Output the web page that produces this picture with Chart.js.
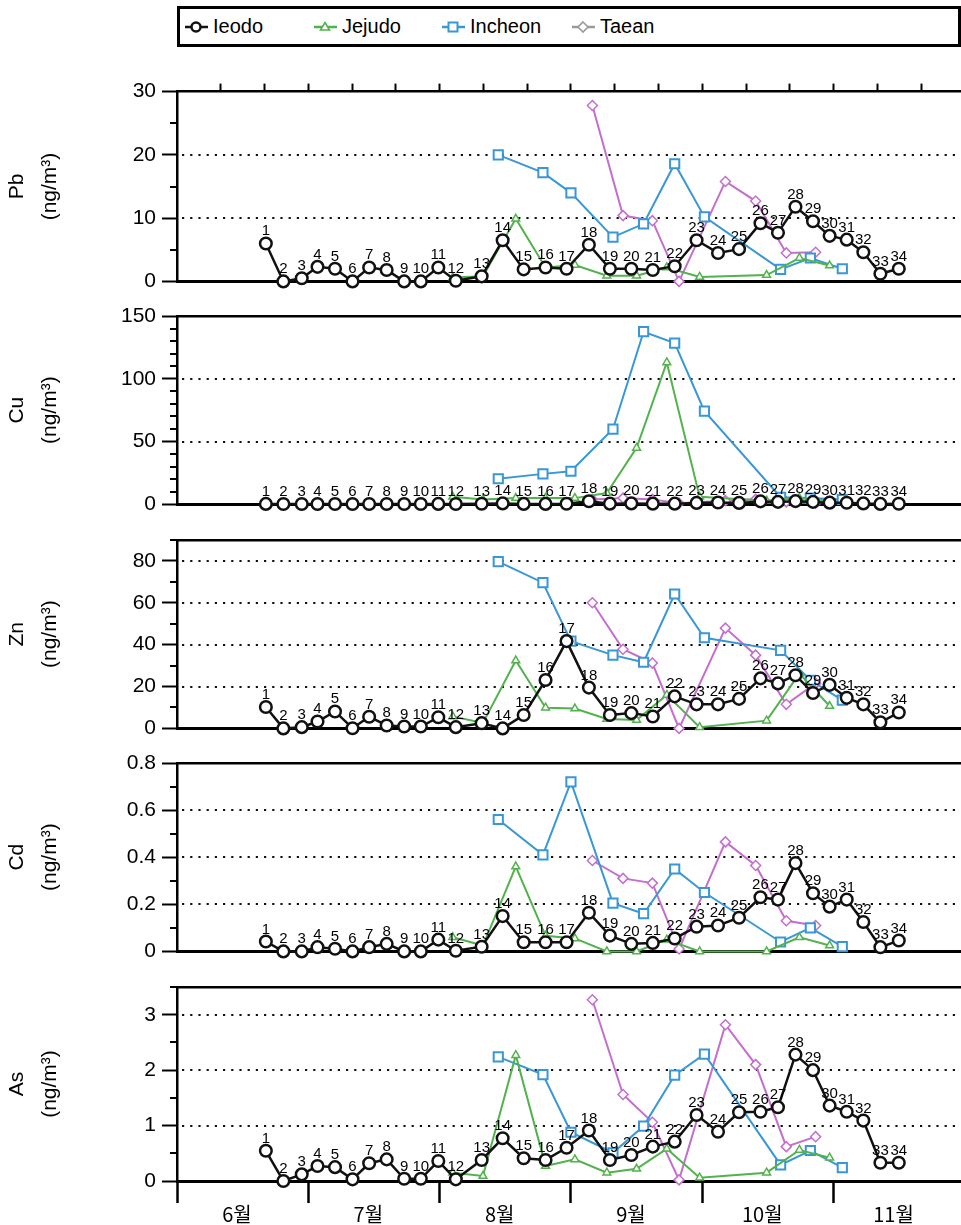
<!DOCTYPE html>
<html>
<head>
<meta charset="utf-8">
<script src="https://cdn.jsdelivr.net/npm/chart.js@4.4.1/dist/chart.umd.min.js"></script>
<style>
html, body { margin: 0; padding: 0; background: #fff; width: 961px; height: 1225px; overflow: hidden; position: relative; font-family: "Liberation Sans", Arial, sans-serif; }
.panel { position: absolute; left: 0; width: 961px; overflow: hidden; }
#legend { position: absolute; left: 177px; top: 6px; width: 778px; height: 35px; border: 3px solid #000; }
.item { position: absolute; top: 0; height: 35px; display: flex; align-items: center; font-size: 20px; color: #000; }
.item svg { margin-right: 5px; }
</style>
</head>
<body>
<div id="legend"></div>
<script>
// x positions: days after 1 June (30-day months on the axis)
const ieodoDay = [20.3, 24.3, 28.5, 32.1, 36.1, 40.1, 43.9, 47.9, 51.9, 55.7, 59.7, 63.7, 69.6, 74.4, 79.2, 84.2, 89.0,
    94.1, 98.9, 103.8, 108.7, 113.7, 118.7, 123.6, 128.4, 133.3, 137.3, 141.3, 145.3, 149.1, 153.0, 156.8, 160.7, 164.9];
const jejuDay = [63.0, 69.9, 77.4, 84.2, 90.9, 98.2, 105.0, 111.9, 119.4, 134.7, 142.2, 149.1];
const incheonDay = [73.4, 83.6, 90.0, 99.6, 106.6, 113.7, 120.5, 137.9, 144.7, 152.0];
const taeanDay = [94.9, 101.9, 108.6, 114.7, 125.3, 132.2, 139.2, 145.9];

const monthStart = [0, 30, 60, 90, 120, 150];
const monthLabels = ['6월', '7월', '8월', '9월', '10월', '11월'];
const topTickDays = [10, 20, 30, 40, 50, 60, 70, 80, 90, 100, 110, 120, 130, 140, 150, 160, 170];
const xMax = 179;

const ieodoPb = [6.0, 0.0, 0.5, 2.3, 2.0, 0.0, 2.2, 1.8, 0.0, 0.0, 2.2, 0.1, 0.8, 6.5, 1.9, 2.2, 2.0,
    5.8, 2.0, 2.0, 1.8, 2.4, 6.5, 4.5, 5.1, 9.2, 7.7, 11.8, 9.5, 7.2, 6.6, 4.6, 1.2, 2.0];
const jejuPb = [0.6, 0.8, 9.9, 2.2, 2.6, 0.9, 0.9, 2.2, 0.7, 1.0, 3.7, 2.5];
const incheonPb = [20.0, 17.2, 14.0, 7.0, 9.1, 18.6, 10.2, 1.9, 3.7, 2.0];
const taeanPb = [27.8, 10.4, 9.6, 0.0, 15.8, 12.7, 4.5, 4.6];

const ieodoCu = [0.4, 0.3, 0.3, 0.3, 0.3, 0.3, 0.3, 0.3, 0.3, 0.3, 0.4, 0.3, 0.5, 0.8, 0.4, 0.4, 0.5,
    2.5, 0.6, 0.8, 0.6, 0.6, 1.2, 1.5, 1.2, 2.4, 2.0, 2.6, 2.0, 1.4, 1.3, 0.8, 0.4, 0.5];
const jejuCu = [6, 4, 5, 5, 5, 9, 45, 113, 6, 3, 5, 3];
const incheonCu = [20.4, 24.3, 26.4, 60, 137.5, 128.4, 74.2, 5.7, 5, 3.9];
const taeanCu = [4, 5, 4, 1, 3, 4, 2, 1];

const ieodoZn = [10.2, 0, 0.6, 3.3, 8.1, 0.1, 5.6, 1.4, 0.9, 0.9, 5.3, 0.6, 2.5, 0, 6.4, 23.1, 41.7,
    19.5, 6.4, 7.3, 5.7, 15.3, 11.5, 11.5, 14.1, 23.9, 21.5, 25.4, 16.9, 20.8, 14.6, 11.5, 2.9, 7.6];
const jejuZn = [5.7, 2.6, 32.4, 9.9, 9.5, 4.5, 4.0, 16.0, 0.6, 3.7, 26.2, 10.7];
const incheonZn = [79.7, 69.6, 41.7, 35, 31.6, 64.2, 43.3, 37.3, 23, 13.5];
const taeanZn = [60, 37.8, 31.2, 0, 47.9, 35, 11.5, 21.5];

const ieodoCd = [0.042, 0, 0, 0.018, 0.011, 0, 0.018, 0.032, 0, 0, 0.05, 0.003, 0.02, 0.15, 0.039, 0.039, 0.039,
    0.164, 0.067, 0.032, 0.036, 0.055, 0.105, 0.11, 0.143, 0.23, 0.22, 0.375, 0.247, 0.19, 0.22, 0.125, 0.018, 0.046];
const jejuCd = [0.06, 0.025, 0.36, 0.066, 0.055, 0, 0, 0.05, 0, 0, 0.06, 0.025];
const incheonCd = [0.56, 0.41, 0.72, 0.205, 0.16, 0.35, 0.25, 0.04, 0.1, 0.02];
const taeanCd = [0.386, 0.31, 0.29, 0.01, 0.465, 0.365, 0.13, 0.11];

const ieodoAs = [0.545, 0, 0.12, 0.27, 0.25, 0.03, 0.32, 0.39, 0.04, 0.04, 0.36, 0.03, 0.38, 0.77, 0.41, 0.38, 0.6,
    0.91, 0.38, 0.47, 0.62, 0.71, 1.19, 0.89, 1.24, 1.25, 1.33, 2.28, 2.0, 1.36, 1.25, 1.09, 0.33, 0.33];
const jejuAs = [0.15, 0.09, 2.27, 0.27, 0.39, 0.15, 0.22, 0.58, 0.06, 0.15, 0.56, 0.42];
const incheonAs = [2.24, 1.92, 0.88, 0.51, 0.99, 1.91, 2.29, 0.29, 0.55, 0.24];
const taeanAs = [3.27, 1.56, 1.06, 0.02, 2.82, 2.1, 0.62, 0.8];

const stations = [
    { name: 'Ieodo', color: '#111', legendColor: '#111' },
    { name: 'Jejudo', color: '#52b24c', legendColor: '#52b24c' },
    { name: 'Incheon', color: '#3a97d6', legendColor: '#3a97d6' },
    { name: 'Taean', color: '#c46fcd', legendColor: '#9a9a9a' }
];

const panels = [
    { name: 'Pb', max: 30, minor: 5, major: 10, series: [ieodoPb, jejuPb, incheonPb, taeanPb], top: 73, height: 227, padTop: 10 },
    { name: 'Cu', max: 150, minor: 10, major: 50, series: [ieodoCu, jejuCu, incheonCu, taeanCu], top: 294, height: 229, padTop: 22 },
    { name: 'Zn', max: 90, minor: 10, major: 20, series: [ieodoZn, jejuZn, incheonZn, taeanZn], top: 518, height: 229, padTop: 22 },
    { name: 'Cd', max: 0.8, minor: 0.1, major: 0.2, series: [ieodoCd, jejuCd, incheonCd, taeanCd], top: 741, height: 229, padTop: 22 },
    { name: 'As', max: 3.5, minor: 0.5, major: 1, series: [ieodoAs, jejuAs, incheonAs, taeanAs], top: 965, height: 260, padTop: 22 }
];
const days = [ieodoDay, jejuDay, incheonDay, taeanDay];

Chart.defaults.font.family = '"Liberation Sans", Arial, Helvetica, sans-serif';
Chart.defaults.color = '#000';

function isMajor(v, major) {
    const r = v / major;
    return Math.abs(r - Math.round(r)) < 1e-6;
}

// legend box
const legendPos = [5, 134, 262, 392];
const legendIcons = [
    c => `<circle cx="11" cy="10" r="4.5" fill="#fff" stroke="${c}" stroke-width="2.5"/>`,
    c => `<polygon points="11,5.5 15.5,13 6.5,13" fill="#fff" stroke="${c}" stroke-width="1.6"/>`,
    c => `<rect x="6.5" y="5.5" width="9" height="9" fill="#fff" stroke="${c}" stroke-width="2"/>`,
    c => `<polygon points="11,5 16,10 11,15 6,10" fill="#fff" stroke="${c}" stroke-width="1.6"/>`
];
const legend = document.getElementById('legend');
stations.forEach((s, i) => {
    const item = document.createElement('div');
    item.className = 'item';
    item.style.left = legendPos[i] + 'px';
    item.innerHTML = `<svg width="23" height="20"><line x1="0" y1="10" x2="23" y2="10" stroke="${s.legendColor}" stroke-width="2.5"/>${legendIcons[i](s.legendColor)}</svg>${s.name}`;
    legend.appendChild(item);
});

const panelDecor = {
    id: 'panelDecor',
    beforeDatasetsDraw(chart, args, opts) {
        const { ctx, chartArea: a } = chart;
        const y = chart.scales.y;
        ctx.save();
        ctx.strokeStyle = '#111';
        ctx.lineWidth = 2.2;
        ctx.setLineDash([2.2, 6]);
        y.ticks.forEach(t => {
            if (isMajor(t.value, opts.major) && t.value > 0 && t.value < y.max - 1e-9) {
                const py = Math.round(y.getPixelForValue(t.value));
                ctx.beginPath();
                ctx.moveTo(a.left + 5, py);
                ctx.lineTo(a.right, py);
                ctx.stroke();
            }
        });
        ctx.setLineDash([]);
        ctx.lineWidth = 2;
        ctx.strokeStyle = '#000';
        y.ticks.forEach(t => {
            if (!isMajor(t.value, opts.major)) {
                const py = Math.round(y.getPixelForValue(t.value));
                ctx.beginPath();
                ctx.moveTo(a.left - 7, py);
                ctx.lineTo(a.left, py);
                ctx.stroke();
            }
        });
        ctx.restore();
    },
    afterDatasetsDraw(chart) {
        const { ctx } = chart;
        const meta = chart.getDatasetMeta(0);
        ctx.save();
        ctx.font = '15px "Liberation Sans", Arial, sans-serif';
        ctx.fillStyle = '#000';
        ctx.textAlign = 'center';
        ctx.textBaseline = 'alphabetic';
        meta.data.forEach((pt, i) => {
            ctx.fillText(String(i + 1), pt.x, pt.y - 8);
        });
        ctx.restore();
    }
};

const pointStyles = [
    { pointStyle: 'circle', pointRadius: 5.8, pointBorderWidth: 2.5, borderWidth: 2.5 },
    { pointStyle: 'triangle', pointRadius: 4.5, pointBorderWidth: 1.5, borderWidth: 2 },
    { pointStyle: 'rect', pointRadius: 6.5, pointBorderWidth: 2, borderWidth: 2 },
    { pointStyle: 'rectRot', pointRadius: 5, pointBorderWidth: 1.5, borderWidth: 2 }
];

panels.forEach((p, idx) => {
    const last = idx === panels.length - 1;
    const wrap = document.createElement('div');
    wrap.className = 'panel';
    wrap.style.top = p.top + 'px';
    wrap.style.height = p.height + 'px';
    const canvas = document.createElement('canvas');
    canvas.width = 969;
    canvas.height = p.height;
    canvas.style.width = '969px';
    canvas.style.height = p.height + 'px';
    wrap.appendChild(canvas);
    document.body.appendChild(wrap);

    const datasets = stations.map((s, k) => Object.assign({
        label: s.name,
        data: days[k].map((d, i) => ({ x: d, y: p.series[k][i] })),
        borderColor: s.color,
        pointBorderColor: s.color,
        pointBackgroundColor: '#fff',
        backgroundColor: '#fff',
        tension: 0,
        fill: false,
        clip: false
    }, pointStyles[k]));

    new Chart(canvas, {
        type: 'line',
        data: { datasets: datasets },
        options: {
            responsive: false,
            animation: false,
            devicePixelRatio: 1,
            layout: { padding: { top: p.padTop, bottom: last ? 0 : 14, left: 0, right: 0 } },
            plugins: {
                legend: { display: false },
                tooltip: { enabled: false },
                panelDecor: { major: p.major }
            },
            scales: {
                x: {
                    type: 'linear', position: 'bottom', min: 0, max: xMax,
                    afterBuildTicks: s => { s.ticks = monthStart.map(v => ({ value: v })); },
                    ticks: {
                        display: last, autoSkip: false, maxRotation: 0, labelOffset: 60, padding: -1,
                        font: { family: '"Noto Sans CJK KR", sans-serif', size: 20 },
                        color: '#000',
                        callback: (v, i) => monthLabels[i]
                    },
                    grid: { drawOnChartArea: false, drawTicks: last, tickLength: 22, tickWidth: 2.5, tickColor: '#000' },
                    border: { display: true, width: 3, color: '#000' },
                    afterFit: s => { s.height = last ? 44 : 0; }
                },
                x2: {
                    type: 'linear', position: 'top', min: 0, max: xMax,
                    afterBuildTicks: s => { s.ticks = topTickDays.map(v => ({ value: v })); },
                    ticks: { display: false },
                    grid: { drawOnChartArea: false, drawTicks: idx === 0, tickLength: 8, tickWidth: 2, tickColor: '#000' },
                    border: { display: true, width: 2.5, color: '#000' },
                    afterFit: s => { s.height = idx === 0 ? 8 : 0; }
                },
                y: {
                    type: 'linear', position: 'left', min: 0, max: p.max,
                    afterBuildTicks: s => {
                        const n = Math.round(p.max / p.minor);
                        const t = [];
                        for (let k = 0; k <= n; k++) t.push({ value: +(k * p.minor).toFixed(3) });
                        s.ticks = t;
                    },
                    ticks: {
                        autoSkip: false, padding: 6, color: '#000',
                        font: { size: 21 },
                        callback: v => isMajor(v, p.major) ? String(+v.toFixed(2)) : ''
                    },
                    grid: {
                        drawOnChartArea: false, drawTicks: true, tickLength: 15, tickWidth: 2,
                        tickColor: c => (c.tick && isMajor(c.tick.value, p.major)) ? '#000' : 'rgba(0,0,0,0)'
                    },
                    border: { display: true, width: 2.5, color: '#000' },
                    title: {
                        display: true, text: [p.name, '(ng/m³)'], color: '#000',
                        font: { size: 21, lineHeight: 1.55 }, padding: { top: 1, bottom: 0 }
                    },
                    afterFit: s => { s.width = 177; }
                }
            }
        },
        plugins: [panelDecor]
    });
});
</script>
</body>
</html>
